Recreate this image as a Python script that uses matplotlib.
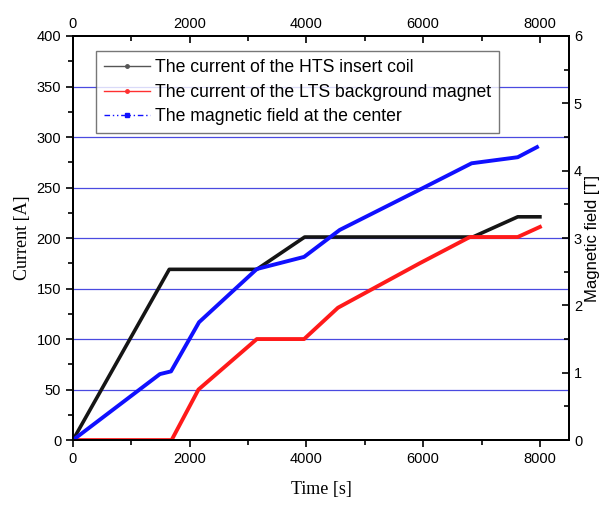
import matplotlib
matplotlib.use('Agg')
from matplotlib import pyplot as plt
from matplotlib.lines import Line2D
from matplotlib.ticker import MultipleLocator

# HTS insert coil current [A]
hts_t = [0, 1650, 3150, 3970, 6850, 7620, 8000]
hts_i = [0, 169, 169, 201, 201, 221, 221]

# LTS background magnet current [A]
lts_t = [0, 1690, 2150, 3150, 3960, 4540, 5940, 6800, 7620, 8000]
lts_i = [0, 0, 50, 100, 100, 131, 175, 201, 201, 211]

# magnetic field at the center [T]
b_t = [0, 1490, 1680, 2160, 3150, 3960, 4570, 5990, 6830, 7620, 7950]
b_val = [0, 0.98, 1.02, 1.75, 2.54, 2.72, 3.12, 3.74, 4.11, 4.20, 4.35]

sans = ['Liberation Sans', 'DejaVu Sans']
serif = ['Liberation Serif', 'DejaVu Serif']
plt.rcParams['font.family'] = sans

fig = plt.figure(figsize=(6.08, 5.07), dpi=100)
ax = fig.add_axes([0.12, 0.132, 0.816, 0.797])

for y in range(50, 400, 50):
    ax.axhline(y, color='#4a4ae0', lw=0.9, zorder=1)

ax.plot(hts_t, hts_i, color='#151515', lw=2.6, zorder=3)
ax.plot(lts_t, lts_i, color='#ff1a1a', lw=2.8, zorder=3)

ax.set_xlim(0, 8500)
ax.set_ylim(0, 400)
ax.xaxis.set_major_locator(MultipleLocator(2000))
ax.xaxis.set_minor_locator(MultipleLocator(1000))
ax.yaxis.set_major_locator(MultipleLocator(50))
ax.yaxis.set_minor_locator(MultipleLocator(25))
ax.tick_params(which='both', direction='out', labelsize=10.5, width=1.2)
ax.tick_params(which='major', length=5)
ax.tick_params(which='minor', length=3.5)
ax.set_xlabel('Time [s]', family=serif, fontsize=13, labelpad=11)
ax.set_ylabel('Current [A]', family=serif, fontsize=13, labelpad=4)

axr = ax.twinx()
axr.plot(b_t, b_val, color='#1010ff', lw=2.8, zorder=3)
axr.set_ylim(0, 6)
axr.yaxis.set_major_locator(MultipleLocator(1))
axr.yaxis.set_minor_locator(MultipleLocator(0.5))
axr.tick_params(which='both', direction='in', labelsize=10.5, width=1.2)
axr.tick_params(which='major', length=5)
axr.tick_params(which='minor', length=3.5)
axr.set_ylabel('Magnetic field [T]', fontsize=12, labelpad=2)

axt = ax.twiny()
axt.set_xlim(0, 8500)
axt.xaxis.set_major_locator(MultipleLocator(2000))
axt.xaxis.set_minor_locator(MultipleLocator(1000))
axt.tick_params(which='both', direction='in', labelsize=10.5, width=1.2)
axt.tick_params(which='major', length=5)
axt.tick_params(which='minor', length=3.5)

for a in (ax, axr, axt):
    for s in a.spines.values():
        s.set_linewidth(1.3)

handles = [
    Line2D([], [], color='#555555', lw=1, marker='o', markersize=2.5),
    Line2D([], [], color='#ff3030', lw=1, marker='o', markersize=2.5),
    Line2D([], [], color='#1010ff', lw=1, ls=(0, (4, 2, 1, 2, 1, 2)),
           marker='s', markersize=3),
]
labels = ['The current of the HTS insert coil',
          'The current of the LTS background magnet',
          'The magnetic field at the center']
leg = axt.legend(handles, labels, loc='upper left', bbox_to_anchor=(0.047, 0.962),
                 fontsize=12.7, frameon=True, fancybox=False, edgecolor='#555555',
                 handlelength=2.6, handletextpad=0.3, labelspacing=0.42,
                 borderpad=0.45, borderaxespad=0)
leg.get_frame().set_linewidth(1.0)

fig.savefig('out.png', dpi=100)
